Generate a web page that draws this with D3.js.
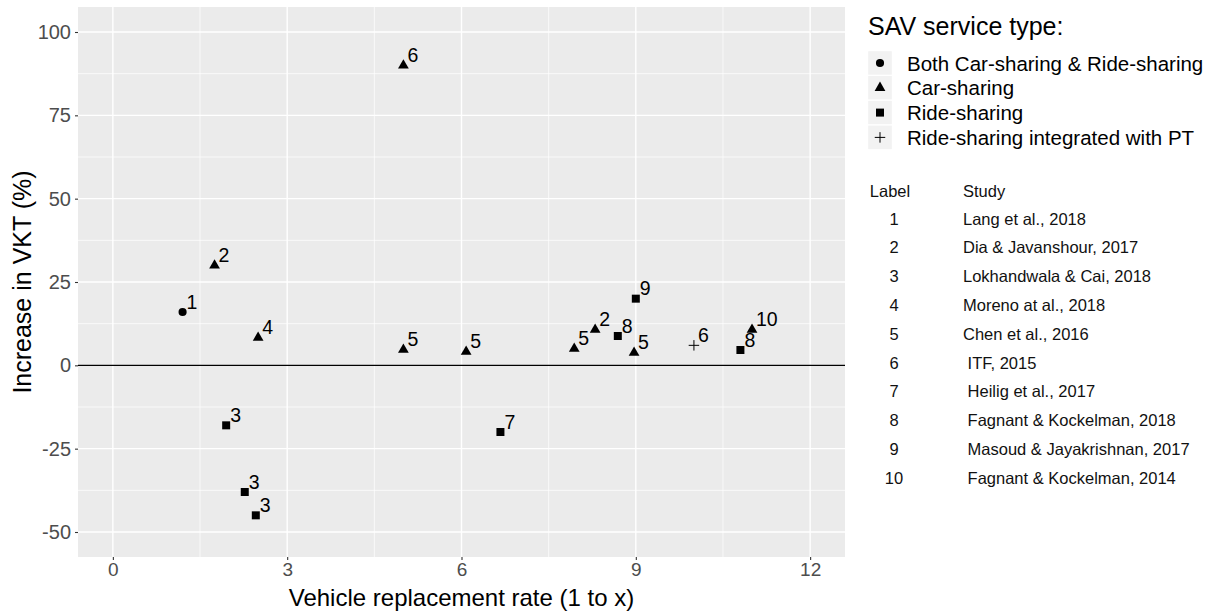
<!DOCTYPE html>
<html><head><meta charset="utf-8">
<script src="https://cdn.jsdelivr.net/npm/d3@7"></script>
<style>
body{margin:0;background:#fff}
text{font-family:Arial,"Liberation Sans",Helvetica,sans-serif}
</style>
</head><body>
<svg id="c" width="1213" height="611"></svg>
<script>
// ---------- data ----------
const pointLabels = [1, 2, 4, 3, 3, 3, 6, 5, 5, 7, 5, 2, 8, 5, 9, 6, 8, 10];
const replacementRate = [1.2, 1.75, 2.5, 1.95, 2.27, 2.46, 5.0, 5.0, 6.08, 6.67, 7.94, 8.3, 8.69, 8.97, 9.0, 10.0, 10.8, 11.0];
const vktIncrease = [16, 30, 8.3, -18, -38, -45, 90, 4.7, 4.1, -20, 5, 10.7, 8.8, 3.8, 20, 6, 4.6, 10.7];
const serviceType = ["Both", "Car", "Car", "Ride", "Ride", "Ride", "Car", "Car", "Car", "Ride", "Car", "Car", "Ride", "Car", "Ride", "PT", "Ride", "Car"];
const typeKeys = ["Both", "Car", "Ride", "PT"];
const typeNames = ["Both Car-sharing & Ride-sharing", "Car-sharing", "Ride-sharing", "Ride-sharing integrated with PT"];
const xTicks = [0, 3, 6, 9, 12];
const yTicks = [-50, -25, 0, 25, 50, 75, 100];
const xMinor = [1.5, 4.5, 7.5, 10.5];
const yMinor = [-37.5, -12.5, 12.5, 37.5, 62.5, 87.5];
const tableNums = ["1", "2", "3", "4", "5", "6", "7", "8", "9", "10"];
const tableStudies = ["Lang et al., 2018", "Dia & Javanshour, 2017", "Lokhandwala & Cai, 2018", "Moreno at al., 2018", "Chen et al., 2016", " ITF, 2015", " Heilig et al., 2017", " Fagnant & Kockelman, 2018", " Masoud & Jayakrishnan, 2017", " Fagnant & Kockelman, 2014"];

// ---------- scales ----------
const svg = d3.select("#c");
const x = d3.scaleLinear().domain([-0.6, 12.6]).range([78, 845]);
const y = d3.scaleLinear().domain([-57.5, 107.5]).range([557, 7]);

const plusSym = { draw(ctx, size) { const r = Math.sqrt(size) / 2; ctx.moveTo(-r, 0); ctx.lineTo(r, 0); ctx.moveTo(0, -r); ctx.lineTo(0, r); } };
const symType = d3.scaleOrdinal().domain(typeKeys).range([d3.symbolCircle, d3.symbolTriangle, d3.symbolSquare, plusSym]);
const symSize = d3.scaleOrdinal().domain(typeKeys).range([52, 50, 64, 110]);
const symbolPath = t => d3.symbol().type(symType(t)).size(symSize(t))();

// ---------- panel ----------
svg.append("rect").attr("x", x.range()[0]).attr("y", y.range()[1])
  .attr("width", x.range()[1] - x.range()[0]).attr("height", y.range()[0] - y.range()[1])
  .attr("fill", "#EBEBEB");

const grid = svg.append("g").attr("stroke", "#fff");
grid.selectAll(".xm").data(xMinor).join("line")
  .attr("x1", d => x(d)).attr("x2", d => x(d)).attr("y1", y.range()[0]).attr("y2", y.range()[1]).attr("stroke-width", 0.7);
grid.selectAll(".ym").data(yMinor).join("line")
  .attr("y1", d => y(d)).attr("y2", d => y(d)).attr("x1", x.range()[0]).attr("x2", x.range()[1]).attr("stroke-width", 0.7);
grid.selectAll(".xM").data(xTicks).join("line")
  .attr("x1", d => x(d)).attr("x2", d => x(d)).attr("y1", y.range()[0]).attr("y2", y.range()[1]).attr("stroke-width", 1.4);
grid.selectAll(".yM").data(yTicks).join("line")
  .attr("y1", d => y(d)).attr("y2", d => y(d)).attr("x1", x.range()[0]).attr("x2", x.range()[1]).attr("stroke-width", 1.4);

// zero line
svg.append("line").attr("x1", x.range()[0]).attr("x2", x.range()[1])
  .attr("y1", y(0)).attr("y2", y(0)).attr("stroke", "#000").attr("stroke-width", 1.2);

// ---------- axes ----------
const xAxis = svg.append("g").attr("transform", `translate(0,${y.range()[0]})`)
  .call(d3.axisBottom(x).tickValues(xTicks).tickSize(3).tickPadding(3).tickFormat(d => String(d)));
const yAxis = svg.append("g").attr("transform", `translate(${x.range()[0]},0)`)
  .call(d3.axisLeft(y).tickValues(yTicks).tickSize(3).tickPadding(4).tickFormat(d => String(d)));
[xAxis, yAxis].forEach(a => {
  a.select(".domain").remove();
  a.selectAll(".tick line").attr("stroke", "#333").attr("stroke-width", 1.1);
  a.selectAll(".tick text").attr("fill", "#4D4D4D").style("font-family", "Arial,'Liberation Sans',sans-serif");
});
xAxis.selectAll(".tick text").style("font-size", "19px");
yAxis.selectAll(".tick text").style("font-size", "20px");

svg.append("text").attr("x", (x.range()[0] + x.range()[1]) / 2).attr("y", 606)
  .attr("text-anchor", "middle").style("font-size", "24px").attr("fill", "#000")
  .text("Vehicle replacement rate (1 to x)");
svg.append("text").attr("transform", `translate(31,${(y.range()[0] + y.range()[1]) / 2}) rotate(-90)`)
  .attr("text-anchor", "middle").style("font-size", "25px").attr("fill", "#000")
  .text("Increase in VKT (%)");

// ---------- points ----------
const pts = pointLabels.map((l, i) => ({ l, x: replacementRate[i], y: vktIncrease[i], t: serviceType[i] }));
svg.append("g").selectAll("path").data(pts).join("path")
  .attr("transform", d => `translate(${x(d.x)},${y(d.y)})`)
  .attr("d", d => symbolPath(d.t))
  .attr("fill", d => d.t === "PT" ? "none" : "#000")
  .attr("stroke", d => d.t === "PT" ? "#000" : "none")
  .attr("stroke-width", 1);
svg.append("g").selectAll("text").data(pts).join("text")
  .attr("x", d => x(d.x) + 4).attr("y", d => y(d.y) - 3.5)
  .style("font-size", "19.5px").attr("fill", "#000")
  .text(d => d.l);

// ---------- legend ----------
const leg = svg.append("g");
leg.append("text").attr("x", 868).attr("y", 35).style("font-size", "25px").attr("fill", "#000").text("SAV service type:");
const rows = leg.selectAll(".row").data(typeKeys).join("g")
  .attr("transform", (d, i) => `translate(880,${63 + i * 24.8})`);
rows.append("rect").attr("x", -12.4).attr("y", -12.4).attr("width", 24.8).attr("height", 24.8)
  .attr("fill", "#F2F2F2").attr("stroke", "#fff").attr("stroke-width", 1.2);
rows.append("path").attr("d", d => symbolPath(d))
  .attr("fill", d => d === "PT" ? "none" : "#000")
  .attr("stroke", d => d === "PT" ? "#000" : "none").attr("stroke-width", 1);
rows.append("text").attr("x", 27).attr("y", 7.5).style("font-size", "20.5px").attr("fill", "#000")
  .text((d, i) => typeNames[i]);

// ---------- study table ----------
const tab = svg.append("g").style("font-size", "16.5px").attr("fill", "#111");
tab.append("text").attr("x", 890).attr("y", 196.5).attr("text-anchor", "middle").text("Label");
tab.append("text").attr("x", 963).attr("y", 196.5).text("Study");
tab.selectAll(".num").data(tableNums).join("text")
  .attr("x", 894).attr("y", (d, i) => 224.5 + i * 28.8).attr("text-anchor", "middle").text(d => d);
tab.selectAll(".stu").data(tableStudies).join("text")
  .attr("x", 963).attr("y", (d, i) => 224.5 + i * 28.8).style("white-space", "pre").attr("xml:space", "preserve").text(d => d);
</script>
</body></html>
